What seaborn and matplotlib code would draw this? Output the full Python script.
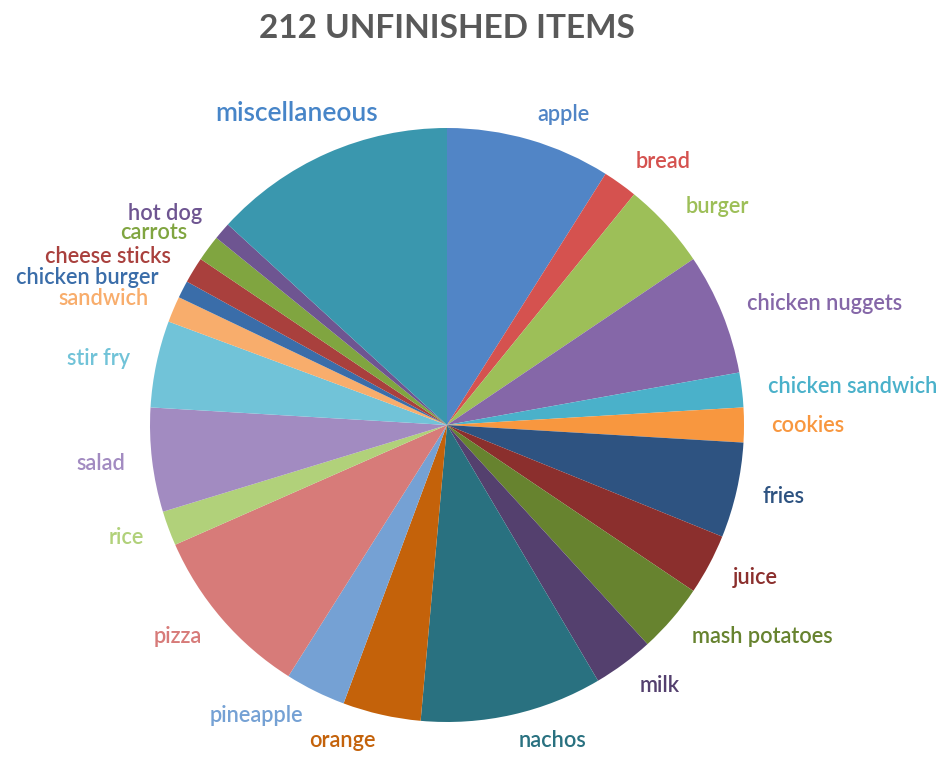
import matplotlib
matplotlib.use("Agg")
import matplotlib.pyplot as plt
import seaborn as sns
import numpy as np

# slices go clockwise from 12 o'clock
items = [
    "apple", "bread", "burger", "chicken nuggets", "chicken sandwich",
    "cookies", "fries", "juice", "mash potatoes", "milk", "nachos",
    "orange", "pineapple", "pizza", "rice", "salad", "stir fry",
    "sandwich", "chicken burger", "cheese sticks", "carrots", "hot dog",
    "miscellaneous",
]
counts = [19, 4, 10, 14, 4, 4, 11, 7, 8, 7, 21, 9, 7, 20, 4, 12, 10, 3, 2, 3, 3, 2, 28]
colors = [
    "#5185C6", "#D5524F", "#9DBF58", "#8567A8", "#4AB1CA",
    "#F8973F", "#2E5381", "#8B2F2D", "#67832F", "#54406E", "#297180",
    "#C4620A", "#75A1D4", "#D77B79", "#B1D17A", "#A28BC1", "#71C3D8",
    "#F8AD6C", "#3A6DA9", "#A9403D", "#80A540", "#6E5591",
    "#3A97AE",
]

sns.set_theme(style="white")
plt.rcParams["font.family"] = ["Lato", "DejaVu Sans"]
palette = sns.color_palette(colors)

fig = plt.figure(figsize=(9.5, 7.6), dpi=100)
ax = fig.add_axes([0, 0, 1, 1])

wedges, texts = ax.pie(
    counts, labels=items, colors=palette, startangle=90, counterclock=False,
    labeldistance=1.09, radius=1.0,
    wedgeprops={"linewidth": 0},
    textprops={"fontsize": 15.7, "fontweight": "semibold"},
)
for t, c in zip(texts, palette):
    t.set_color(c)

# Excel pushed the miscellaneous label further out, to the left, centred and larger
misc = texts[-1]
w = wedges[-1]
ang = np.deg2rad((w.theta1 + w.theta2) / 2 + 2)
misc.set_position((1.165 * np.cos(ang), 1.165 * np.sin(ang)))
misc.set_ha("center")
misc.set_fontsize(19)
misc.set_color("#4785C8")

ax.set_xlim(-447 / 297, 503 / 297)
ax.set_ylim(-335 / 297, 425 / 297)
ax.set_aspect("auto")
ax.axis("off")

fig.text(0.470, 0.963, "212 UNFINISHED ITEMS", ha="center", va="center",
         fontsize=24, fontweight="bold", color="#595959")

fig.savefig("out.png", dpi=100)
plt.close(fig)
